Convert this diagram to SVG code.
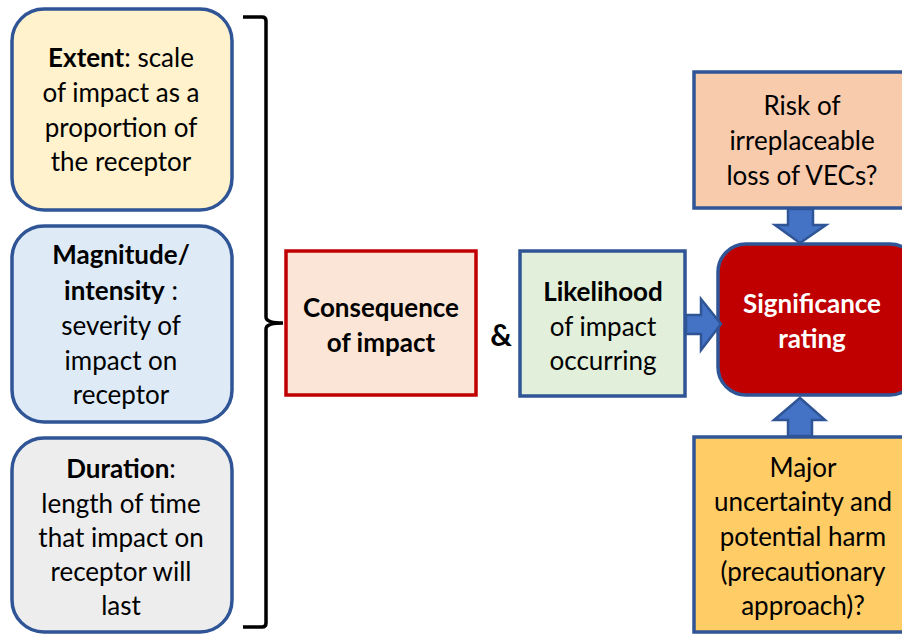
<svg xmlns="http://www.w3.org/2000/svg" width="902" height="635" viewBox="0 0 902 635">
<defs>
<style>
text{font-family:Lato,"Open Sans","Liberation Sans",sans-serif;font-size:26px;fill:#000;text-anchor:middle}
.b{font-weight:bold}
.w{fill:#fff;font-weight:bold}
.bl{stroke:#2F5597;stroke-width:3.5}
.arrow{fill:#4472C4;stroke:#2F5597;stroke-width:2.5;stroke-linejoin:miter}
</style>
</defs>
<rect width="902" height="635" fill="#fff"/>
<g id="extent">
<rect class="bl" x="12" y="9" width="220" height="201" rx="32" fill="#FFF2CC"/>
<text x="121" y="67"><tspan class="b">Extent</tspan>: scale</text>
<text x="121" y="102">of impact as a</text>
<text x="121" y="137">proportion of</text>
<text x="121" y="171">the receptor</text>
</g>
<g id="magnitude">
<rect class="bl" x="12" y="226" width="220" height="196" rx="32" fill="#DEEBF7"/>
<text x="121" y="264" class="b">Magnitude/</text>
<text x="121" y="300"><tspan class="b">intensity</tspan> :</text>
<text x="121" y="335">severity of</text>
<text x="121" y="370">impact on</text>
<text x="121" y="404">receptor</text>
</g>
<g id="duration">
<rect class="bl" x="12" y="438" width="220" height="194" rx="32" fill="#EDEDED"/>
<text x="121" y="478"><tspan class="b">Duration</tspan>:</text>
<text x="121" y="513">length of time</text>
<text x="121" y="547">that impact on</text>
<text x="121" y="581">receptor will</text>
<text x="121" y="615">last</text>
</g>
<g id="bracket">
<path d="M243 17 H262 Q266 17 266 21 V317 Q266 323 283 323 Q266 323 266 329 V623 Q266 627 262 627 H243" fill="none" stroke="#000" stroke-width="3.5"/>
</g>
<g id="consequence">
<rect x="286" y="251" width="190" height="144" fill="#FBE5D6" stroke="#C00000" stroke-width="3.5"/>
<text x="381" y="317" class="b">Consequence</text>
<text x="381" y="352" class="b">of impact</text>
</g>
<g id="amp">
<text x="501" y="346" class="b" style="font-size:30px">&amp;</text>
</g>
<g id="likelihood">
<rect class="bl" x="520" y="251" width="165" height="145" fill="#E2EFDA"/>
<text x="603" y="301" class="b">Likelihood</text>
<text x="603" y="336">of impact</text>
<text x="603" y="370">occurring</text>
</g>
<g id="significance">
<rect class="bl" x="718" y="244" width="200" height="151" rx="28" fill="#C00000"/>
<text x="812" y="313" class="w">Significance</text>
<text x="812" y="348" class="w">rating</text>
</g>
<g id="risk">
<rect class="bl" x="694" y="72" width="220" height="136" fill="#F8CBAD"/>
<text x="802" y="115">Risk of</text>
<text x="802" y="150">irreplaceable</text>
<text x="802" y="185">loss of VECs?</text>
</g>
<g id="major">
<rect class="bl" x="694" y="437" width="220" height="195" fill="#FFCC66"/>
<text x="803" y="477">Major</text>
<text x="803" y="511">uncertainty and</text>
<text x="803" y="546">potential harm</text>
<text x="803" y="581">(precautionary</text>
<text x="803" y="615">approach)?</text>
</g>
<g id="connectors">
<path class="arrow" d="M686 315 H701 V299 L721 324 L701 350 V334 H686 Z"/>
<path class="arrow" d="M788 209 V225 H775 L800 243 L826 225 H813 V209 Z"/>
<path class="arrow" d="M788 436 V420 H774 L800 398 L825 420 H812 V436 Z"/>
</g>
</svg>
